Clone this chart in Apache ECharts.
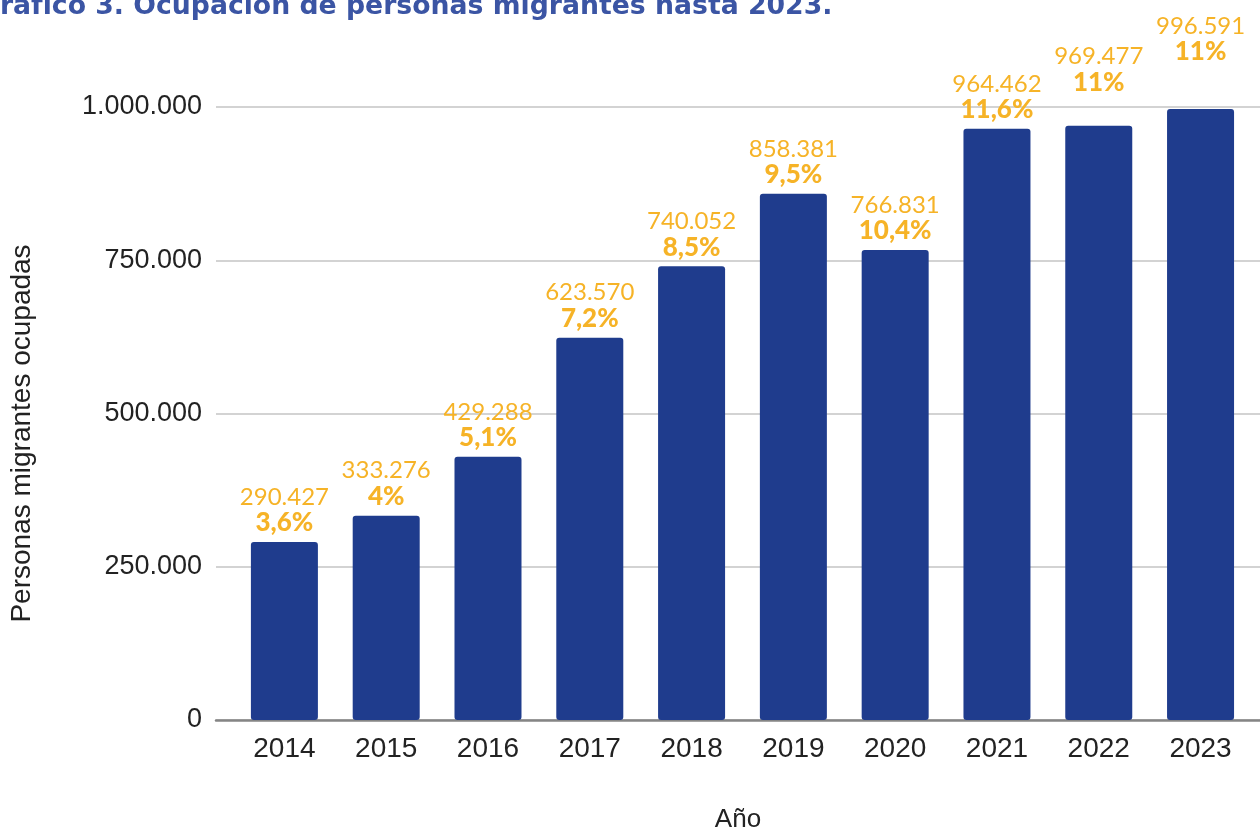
<!DOCTYPE html>
<html lang="es">
<head>
<meta charset="utf-8">
<title>Ocupación de personas migrantes hasta 2023</title>
<script src="https://cdn.jsdelivr.net/npm/echarts@6/dist/echarts.min.js"></script>
<style>
  html, body { margin: 0; padding: 0; background: #ffffff; }
  #chart { width: 1260px; height: 838px; }
</style>
</head>
<body>
<div id="chart"></div>
<script>
// Años y personas migrantes ocupadas, con su participación en el empleo total (%)
const years = [2014, 2015, 2016, 2017, 2018, 2019, 2020, 2021, 2022, 2023];
const employed = [290427, 333276, 429288, 623570, 740052, 858381, 766831, 964462, 969477, 996591];
const share = [3.6, 4, 5.1, 7.2, 8.5, 9.5, 10.4, 11.6, 11, 11];
const yTicks = [0, 250000, 500000, 750000, 1000000];

// Etiquetas de los dos últimos años, desplazadas hacia arriba (px)
const LABEL_LIFT = { 2022: 24, 2023: 38 };

const fmtThousands = v => String(v).replace(/\B(?=(\d{3})+(?!\d))/g, '.');
const fmtShare = v => String(v).replace('.', ',') + '%';

const BAR = '#1f3c8d';
const GOLD = '#f6b327';
const SANS = '"Liberation Sans", Arial, sans-serif';

const barData = years.map((y, i) => {
  const item = { value: [y, employed[i]] };
  if (LABEL_LIFT[y]) item.label = { offset: [0, -LABEL_LIFT[y]] };
  return item;
});

const chart = echarts.init(document.getElementById('chart'), null, { renderer: 'canvas' });

chart.setOption({
  animation: false,
  backgroundColor: '#ffffff',
  title: {
    text: 'Gráfico 3. Ocupación de personas migrantes hasta 2023.',
    left: -27,
    top: -11,
    textStyle: { fontFamily: '"DejaVu Sans"', fontWeight: 'bold', fontSize: 26.7, color: '#3b55a4' }
  },
  grid: { left: 215, right: 0, top: 107, bottom: 113, containLabel: false },
  xAxis: {
    type: 'value',
    min: 2013.328,
    max: 2023.584,
    name: 'Año',
    nameLocation: 'middle',
    nameGap: 87,
    nameTextStyle: { fontFamily: SANS, fontSize: 26, color: '#222222' },
    axisLine: { show: true, onZero: false, lineStyle: { color: '#858585', width: 2.5 } },
    axisTick: { show: false },
    splitLine: { show: false },
    axisLabel: {
      customValues: years,
      formatter: v => String(v),
      fontFamily: SANS,
      fontSize: 28,
      color: '#222222',
      margin: 15
    }
  },
  yAxis: {
    type: 'value',
    min: yTicks[0],
    max: yTicks[yTicks.length - 1],
    interval: yTicks[1] - yTicks[0],
    name: 'Personas migrantes ocupadas',
    nameLocation: 'middle',
    nameGap: 180,
    nameTextStyle: { fontFamily: SANS, fontSize: 28, color: '#222222', padding: [0, 40, 0, 0] },
    axisLine: { show: false },
    axisTick: { show: false },
    splitLine: { lineStyle: { color: '#d3d3d3', width: 2 } },
    axisLabel: {
      formatter: v => fmtThousands(v),
      fontFamily: SANS,
      fontSize: 27,
      color: '#222222',
      margin: 14
    }
  },
  series: [{
    type: 'bar',
    data: barData,
    barWidth: 67,
    itemStyle: { color: BAR, borderRadius: [3, 3, 3, 3] },
    label: {
      show: true,
      position: 'top',
      distance: 6,
      formatter: p => '{v|' + fmtThousands(employed[p.dataIndex]) + '}\n{p|' + fmtShare(share[p.dataIndex]) + '}',
      rich: {
        v: { fontFamily: 'Lato', fontWeight: 400, fontSize: 24, color: GOLD, lineHeight: 26, align: 'center' },
        p: { fontFamily: 'Lato', fontWeight: 900, fontSize: 26, color: GOLD, lineHeight: 26, align: 'center' }
      }
    }
  }]
});
</script>
</body>
</html>
